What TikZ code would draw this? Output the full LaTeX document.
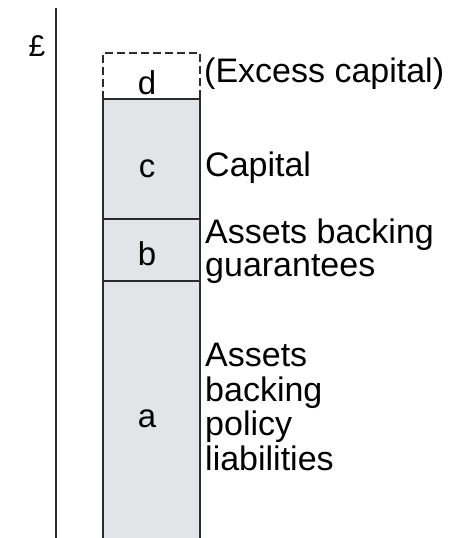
\documentclass[tikz,border=0pt]{standalone}
\usepackage{fontspec}
\setmainfont{Liberation Sans}
\definecolor{blockfill}{HTML}{E3E4E8}
\definecolor{edge}{HTML}{2B2B2B}
\begin{document}
\begin{tikzpicture}[x=1pt,y=-1pt,
  blockline/.style={draw=edge,line width=2pt},
  letter/.style={inner sep=0pt,anchor=base,font=\fontsize{33}{34}\selectfont},
  caption/.style={inner sep=0pt,anchor=base west,align=left,font=\fontsize{34}{34.5}\selectfont}]
\useasboundingbox (0,0) rectangle (450,538);
% vertical value axis
\draw[edge,line width=2pt] (56,8) -- (56,538);
\node[inner sep=0pt,anchor=base,font=\fontsize{30}{30}\selectfont] (pound) at (37,56) {£};
% stacked blocks
\fill[blockfill] (103,99) rectangle (200,538);
\draw[blockline] (103,538) -- (103,99) -- (200,99) -- (200,538);
\draw[blockline] (103,219) -- (200,219);
\draw[blockline] (103,281) -- (200,281);
\draw[blockline,dash pattern=on 8pt off 4pt] (103,99) -- (103,53) -- (200,53) -- (200,99);
% block letters
\node[letter] (d) at (147,94) {d};
\node[letter] (c) at (147,177) {c};
\node[letter] (b) at (147,265) {b};
\node[letter] (a) at (147,427) {a};
% captions (base anchor sits on the last line)
\node[caption] (excess) at (204,82) {(Excess capital)};
\node[caption] (capital) at (205,176) {Capital};
\node[caption,font=\fontsize{34}{33}\selectfont] (guar) at (205,276) {Assets backing\\guarantees};
\node[caption] (policy) at (205,470) {Assets\\backing\\policy\\liabilities};
\end{tikzpicture}
\end{document}
